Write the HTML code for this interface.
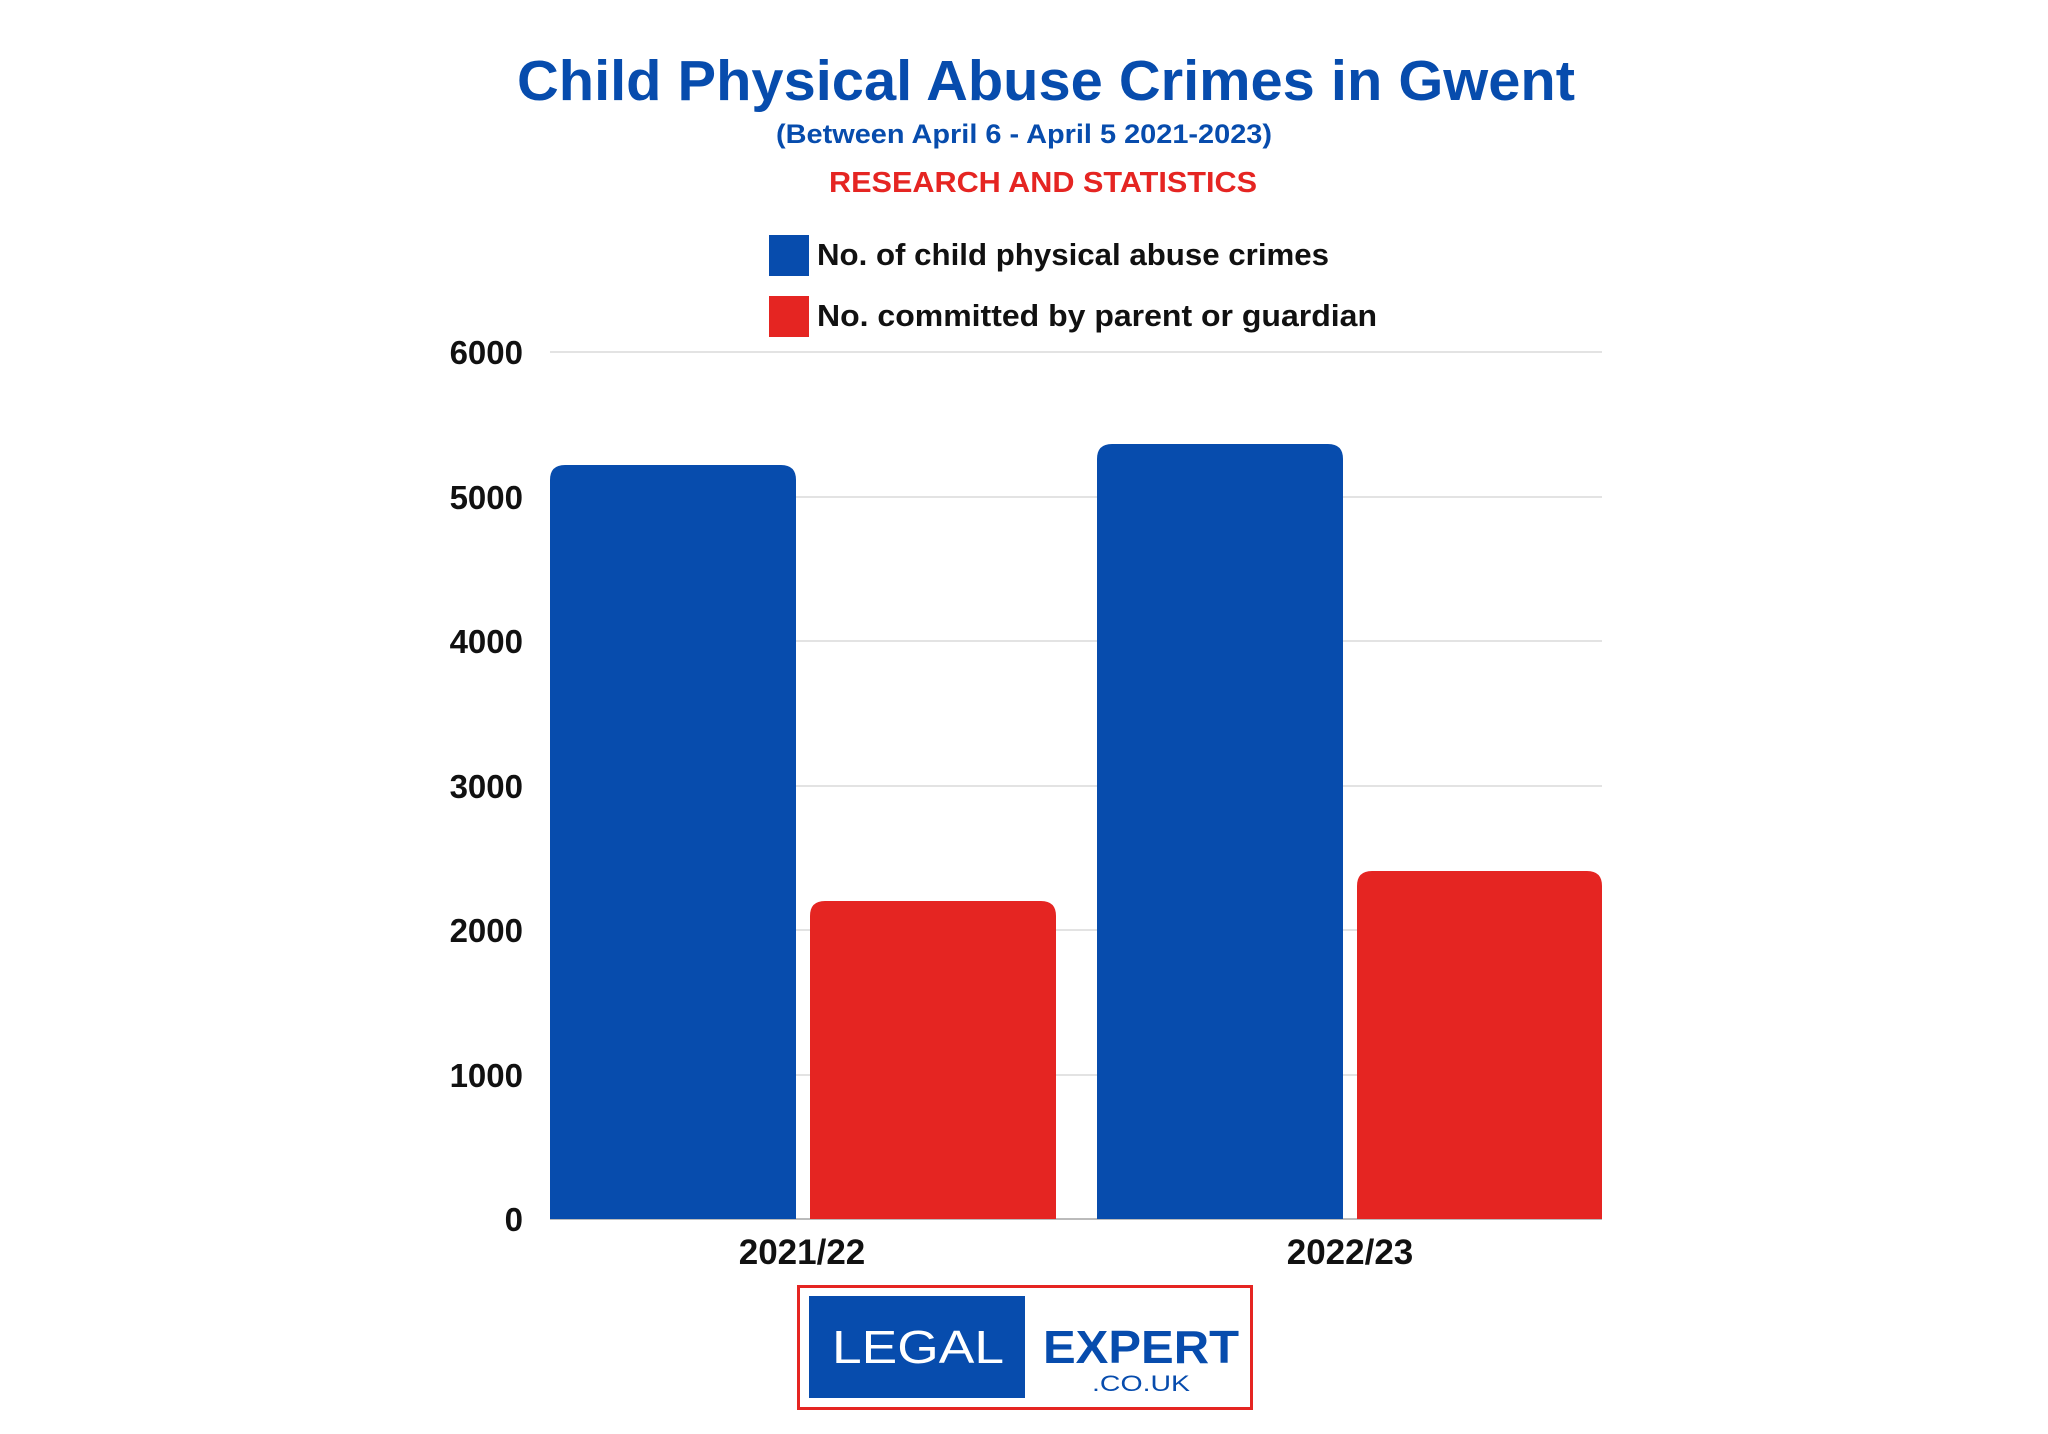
<!DOCTYPE html>
<html><head><meta charset="utf-8"><style>
html,body{margin:0;padding:0;background:#fff;}
body{width:2048px;height:1434px;position:relative;overflow:hidden;font-family:"Liberation Sans",Arial,sans-serif;}
</style></head><body>
<svg width="2048" height="1434" style="position:absolute;left:0;top:0" xmlns="http://www.w3.org/2000/svg">
<g stroke="#e3e3e3" stroke-width="2">
<line x1="550" x2="1602" y1="352" y2="352"/>
<line x1="550" x2="1602" y1="497" y2="497"/>
<line x1="550" x2="1602" y1="641" y2="641"/>
<line x1="550" x2="1602" y1="786" y2="786"/>
<line x1="550" x2="1602" y1="930" y2="930"/>
<line x1="550" x2="1602" y1="1075" y2="1075"/>
</g>
<line x1="550" x2="1602" y1="1219" y2="1219" stroke="#bbb" stroke-width="2"/>
<path d="M550,1219 V480 Q550,465 565,465 H781 Q796,465 796,480 V1219 Z" fill="#074cad"/>
<path d="M810,1219 V916 Q810,901 825,901 H1041 Q1056,901 1056,916 V1219 Z" fill="#e52522"/>
<path d="M1097,1219 V459 Q1097,444 1112,444 H1328 Q1343,444 1343,459 V1219 Z" fill="#074cad"/>
<path d="M1357,1219 V886 Q1357,871 1372,871 H1587 Q1602,871 1602,886 V1219 Z" fill="#e52522"/>
<rect x="769" y="235" width="40" height="41" fill="#074cad"/>
<rect x="769" y="296" width="40" height="41" fill="#e52522"/>
<rect x="798.5" y="1286.5" width="453" height="122" fill="#fff" stroke="#e52522" stroke-width="3"/>
<rect x="809" y="1296" width="216" height="102" fill="#074cad"/>
<g font-family="Liberation Sans, Arial, sans-serif" font-weight="bold">
<text x="1046" y="100" text-anchor="middle" font-size="57" fill="#074cad" textLength="1058" lengthAdjust="spacingAndGlyphs">Child Physical Abuse Crimes in Gwent</text>
<text x="1024" y="143" text-anchor="middle" font-size="27" fill="#074cad" textLength="496" lengthAdjust="spacingAndGlyphs">(Between April 6 - April 5 2021-2023)</text>
<text x="1043" y="192" text-anchor="middle" font-size="29" fill="#e52522" textLength="428" lengthAdjust="spacingAndGlyphs">RESEARCH AND STATISTICS</text>
<text x="817" y="265" font-size="31" fill="#111" textLength="512" lengthAdjust="spacingAndGlyphs">No. of child physical abuse crimes</text>
<text x="817" y="326" font-size="31" fill="#111" textLength="560" lengthAdjust="spacingAndGlyphs">No. committed by parent or guardian</text>
<g font-size="33" fill="#111" text-anchor="end">
<text x="523" y="364">6000</text>
<text x="523" y="509">5000</text>
<text x="523" y="653">4000</text>
<text x="523" y="798">3000</text>
<text x="523" y="942">2000</text>
<text x="523" y="1087">1000</text>
<text x="523" y="1231">0</text>
</g>
<g font-size="35" fill="#111" text-anchor="middle">
<text x="802" y="1264">2021/22</text>
<text x="1350" y="1264">2022/23</text>
</g>
<text x="1043" y="1363" font-size="46" fill="#074cad" textLength="196" lengthAdjust="spacingAndGlyphs">EXPERT</text>
</g>
<text x="832" y="1363" font-family="Liberation Sans, Arial, sans-serif" font-size="46" fill="#fff" textLength="172" lengthAdjust="spacingAndGlyphs">LEGAL</text>
<text x="1092" y="1391" font-family="Liberation Sans, Arial, sans-serif" font-size="22" fill="#074cad" textLength="98" lengthAdjust="spacingAndGlyphs">.CO.UK</text>
</svg>
</body></html>
